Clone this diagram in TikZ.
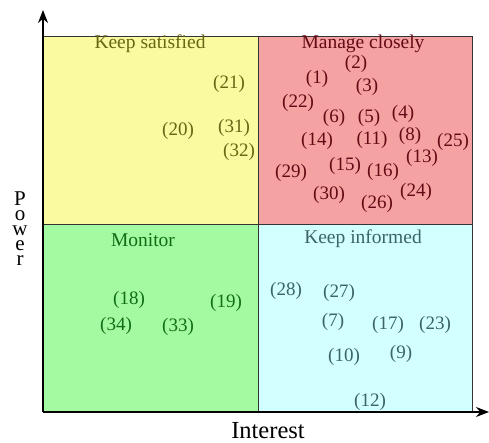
\documentclass[tikz,border=0pt]{standalone}
\usepackage{fontspec}
\setmainfont{Liberation Serif}
\usetikzlibrary{arrows.meta, positioning}

\definecolor{satfill}{RGB}{250,250,160}
\definecolor{manfill}{RGB}{244,162,162}
\definecolor{monfill}{RGB}{164,250,160}
\definecolor{inffill}{RGB}{210,255,255}
\definecolor{sattext}{RGB}{102,102,20}
\definecolor{mantext}{RGB}{100,10,20}
\definecolor{montext}{RGB}{15,110,20}
\definecolor{inftext}{RGB}{60,100,100}

\begin{document}
\begin{tikzpicture}[x=1pt, y=-1pt,
        quad/.style={draw=black!80, line width=0.8pt},
        num/.style={inner sep=0pt, font=\fontsize{19}{21}\selectfont},
        title/.style={inner sep=0pt, font=\fontsize{19.5}{21}\selectfont},
        ax/.style={-{Stealth[length=13pt, width=10pt]}, line width=1.4pt}]
        \useasboundingbox (0,0) rectangle (489,443);

        \draw[quad, fill=satfill] (43,36) rectangle (258,224);
        \draw[quad, fill=manfill] (258,36) rectangle (472,224);
        \draw[quad, fill=monfill] (43,224) rectangle (258,412);
        \draw[quad, fill=inffill] (258,224) rectangle (472,412);

        \coordinate (o) at (43,412);
        \coordinate (ytip) at (43,10);
        \coordinate (xtip) at (489,412);
        \draw[ax] (o) -- (ytip);
        \draw[ax] (o) -- (xtip);

        \draw node[title, text=sattext] (ks) at (150,44) {Keep satisfied};
        \draw node[title, text=mantext] (mc) at (363,44) {Manage closely};
        \draw node[title, text=montext] (mo) at (143,240) {Monitor};
        \draw node[title, text=inftext] (ki) at (363,239) {Keep informed};

        \foreach \x/\y/\n in {229/84/21, 178/131/20, 234/128/31, 239/152/32}
        \draw node[num, text=sattext] (s\n) at (\x,\y) {(\n)};

        \foreach \x/\y/\n in {356/64/2, 317/79/1, 367/87/3, 298/103/22, 334/118/6,
                369/118/5, 403/114/4, 317/141/14, 372/140/11, 410/136/8, 453/142/25,
                422/158/13, 291/173/29, 345/166/15, 383/172/16, 329/195/30,
                416/192/24, 377/204/26}
        \draw node[num, text=mantext] (m\n) at (\x,\y) {(\n)};

        \foreach \x/\y/\n in {129/300/18, 226/303/19, 116/326/34, 178/327/33}
        \draw node[num, text=montext] (g\n) at (\x,\y) {(\n)};

        \foreach \x/\y/\n in {286/291/28, 339/293/27, 333/322/7, 388/325/17,
                435/325/23, 344/357/10, 401/354/9, 370/402/12}
        \draw node[num, text=inftext] (i\n) at (\x,\y) {(\n)};

        \draw node[inner sep=0pt, font=\fontsize{24.5}{26}\selectfont] (interest) at (268,431) {Interest};
        \draw node[inner sep=0pt, align=center, font=\fontsize{21}{15}\selectfont] (power) at (20,229) {P\\o\\w\\e\\r};
      \end{tikzpicture}
\end{document}
